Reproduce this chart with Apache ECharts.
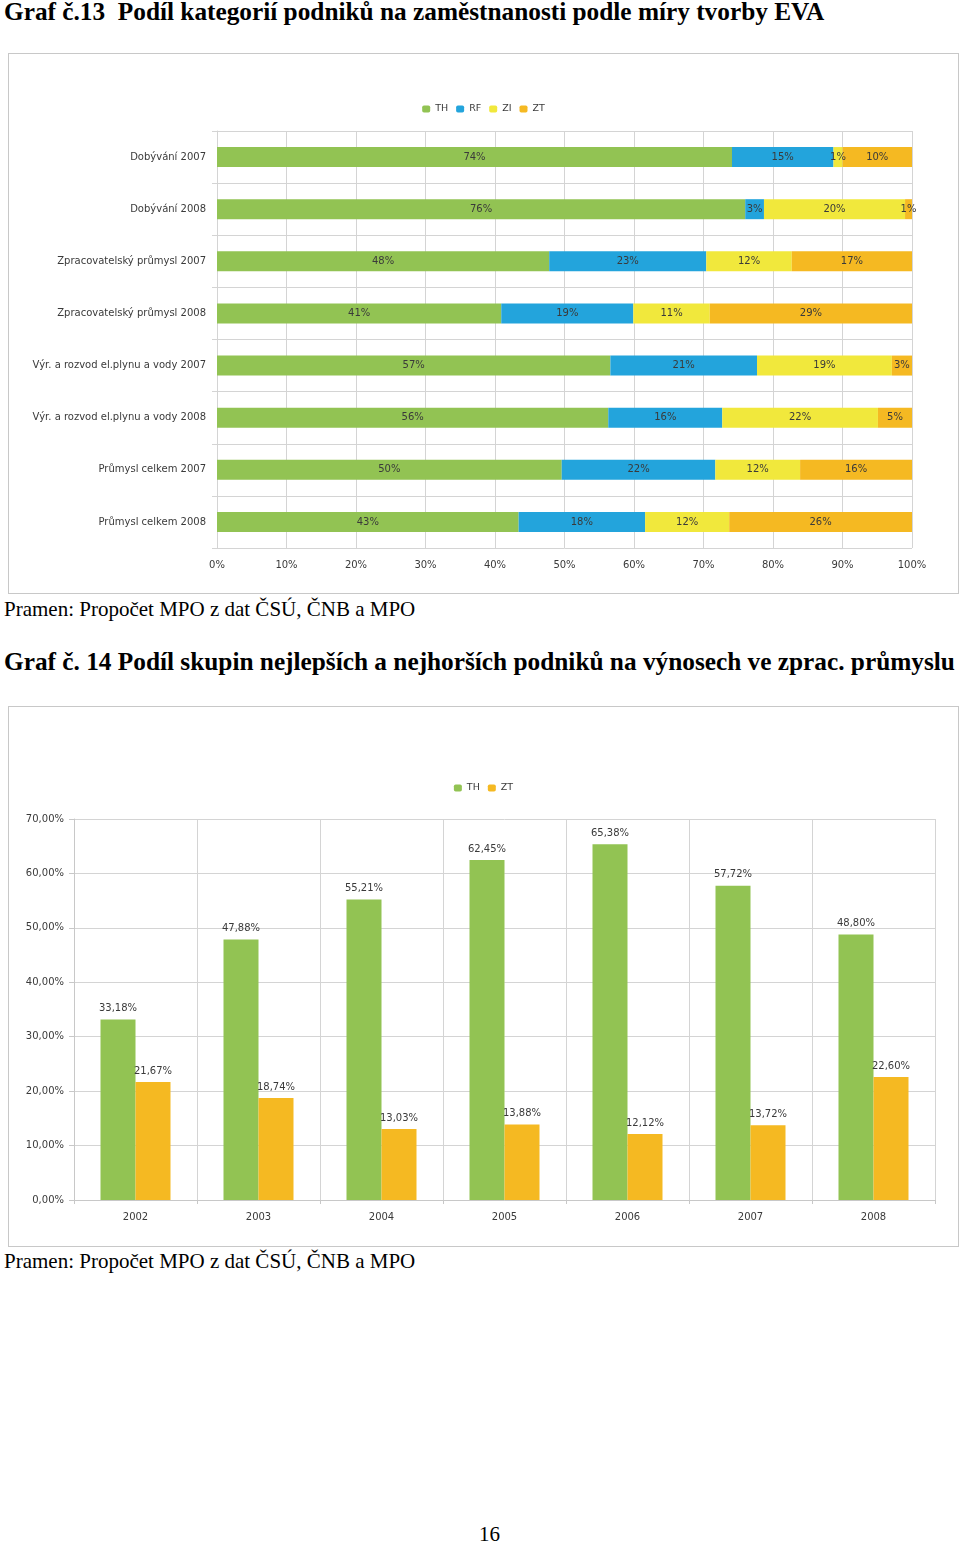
<!DOCTYPE html>
<html>
<head>
<meta charset="utf-8">
<script src="https://cdn.jsdelivr.net/npm/echarts@6/dist/echarts.min.js"></script>
<style>
  html, body { margin: 0; padding: 0; background: #fff; }
  body { width: 960px; height: 1543px; position: relative; overflow: hidden; }
  .t { position: absolute; font-family: "Liberation Serif", "DejaVu Serif", serif; color: #000; white-space: nowrap; }
  .h { font-weight: bold; font-size: 25.3px; }
  .s { font-size: 21px; }
  .box { position: absolute; border: 1.5px solid #c8c8c8; box-sizing: border-box; }
</style>
</head>
<body>
<div class="t h" style="left:4px; top:-3px;">Graf č.13&nbsp; Podíl kategorií podniků na zaměstnanosti podle míry tvorby EVA</div>
<div class="box" id="c1" style="left:8px; top:53px; width:951px; height:541px;"></div>
<div class="t s" style="left:4px; top:597px;">Pramen: Propočet MPO z dat ČSÚ, ČNB a MPO</div>
<div class="t h" style="left:4px; top:647px;">Graf č. 14 Podíl skupin nejlepších a nejhorších podniků na výnosech ve zprac. průmyslu</div>
<div class="box" id="c2" style="left:8px; top:706px; width:951px; height:541px;"></div>
<div class="t s" style="left:4px; top:1249px;">Pramen: Propočet MPO z dat ČSÚ, ČNB a MPO</div>
<div class="t" style="left:479px; top:1522px; font-size:21px;">16</div>
<script>
// ---- Chart 1 data (Graf č.13) ----
const cats1 = [
  'Dobývání 2007',
  'Dobývání 2008',
  'Zpracovatelský průmysl 2007',
  'Zpracovatelský průmysl 2008',
  'Výr. a rozvod el.plynu a vody 2007',
  'Výr. a rozvod el.plynu a vody 2008',
  'Průmysl celkem 2007',
  'Průmysl celkem 2008'
];
const TH1 = [74.1, 76.0, 47.8, 40.9, 56.6, 56.3, 49.6, 43.4];
const RF1 = [14.6, 2.7, 22.6, 19.0, 21.1, 16.4, 22.1, 18.2];
const ZI1 = [1.3, 20.3, 12.3, 11.0, 19.4, 22.4, 12.2, 12.1];
const ZT1 = [10.0, 1.0, 17.3, 29.1, 2.9, 4.9, 16.1, 26.3];
const xTicks1 = ['0%', '10%', '20%', '30%', '40%', '50%', '60%', '70%', '80%', '90%', '100%'];

// ---- Chart 2 data (Graf č.14) ----
const years2 = ['2002', '2003', '2004', '2005', '2006', '2007', '2008'];
const TH2 = [33.18, 47.88, 55.21, 62.45, 65.38, 57.72, 48.80];
const ZT2 = [21.67, 18.74, 13.03, 13.88, 12.12, 13.72, 22.60];

const COL = { TH: '#92c353', RF: '#23a4dc', ZI: '#f1e83c', ZT: '#f5b922' };
const FONT = 'DejaVu Sans';
const TXT = '#3a3a3a';

const c1 = echarts.init(document.getElementById('c1'));
function barSeries(name, data) {
  return {
    name, type: 'bar', stack: 'all', data, barWidth: 20,
    itemStyle: { color: COL[name] },
    label: {
      show: true, position: 'inside', color: TXT, fontFamily: FONT, fontSize: 10,
      formatter: p => Math.round(p.value) + '%'
    }
  };
}
c1.setOption({
  animation: false,
  textStyle: { fontFamily: FONT },
  legend: {
    top: 45, left: 'center', itemWidth: 8, itemHeight: 7, itemGap: 8,
    textStyle: { fontSize: 9.5, color: TXT, fontFamily: FONT },
    data: ['TH', 'RF', 'ZI', 'ZT']
  },
  grid: { left: 208, right: 46, top: 77, bottom: 45, containLabel: false },
  xAxis: {
    type: 'value', min: 0, max: 100, interval: 10,
    axisLine: { show: false }, axisTick: { show: false },
    splitLine: { show: true, lineStyle: { color: '#d4d4d4', width: 1 } },
    axisLabel: { color: TXT, fontSize: 10, margin: 12, formatter: v => xTicks1[Math.round(v / 10)] }
  },
  yAxis: {
    type: 'category', data: cats1, inverse: true,
    axisLine: { show: true, lineStyle: { color: '#d4d4d4' } },
    axisTick: { show: true, length: 5, lineStyle: { color: '#d4d4d4' } },
    splitLine: { show: true, lineStyle: { color: '#d4d4d4', width: 1 } },
    axisLabel: { color: TXT, fontSize: 10, margin: 11 }
  },
  series: [barSeries('TH', TH1), barSeries('RF', RF1), barSeries('ZI', ZI1), barSeries('ZT', ZT1)]
});

const c2 = echarts.init(document.getElementById('c2'));
const fmt2 = p => p.value.toFixed(2).replace('.', ',') + '%';
c2.setOption({
  animation: false,
  textStyle: { fontFamily: FONT },
  legend: {
    top: 71, left: 'center', itemWidth: 8, itemHeight: 7, itemGap: 8,
    textStyle: { fontSize: 9.5, color: TXT, fontFamily: FONT },
    data: ['TH', 'ZT']
  },
  grid: { left: 65, right: 23, top: 112, bottom: 46, containLabel: false },
  xAxis: {
    type: 'category', data: years2,
    axisLine: { show: true, lineStyle: { color: '#c8c8c8' } },
    axisTick: { show: true, length: 4, lineStyle: { color: '#c8c8c8' } },
    splitLine: { show: true, lineStyle: { color: '#d4d4d4' } },
    axisLabel: { color: TXT, fontSize: 10, margin: 12 }
  },
  yAxis: {
    type: 'value', min: 0, max: 70, interval: 10,
    axisLine: { show: true, lineStyle: { color: '#c8c8c8' } },
    axisTick: { show: true, length: 5, lineStyle: { color: '#c8c8c8' } },
    splitLine: { show: true, lineStyle: { color: '#d4d4d4' } },
    axisLabel: { color: TXT, fontSize: 10, margin: 10, formatter: v => v.toFixed(2).replace('.', ',') + '%' }
  },
  series: [
    { name: 'TH', type: 'bar', data: TH2, barWidth: 35, barGap: '0%', itemStyle: { color: COL.TH },
      label: { show: true, position: 'top', distance: 6, color: TXT, fontSize: 10, fontFamily: FONT, formatter: fmt2 } },
    { name: 'ZT', type: 'bar', data: ZT2, barWidth: 35, barGap: '0%', itemStyle: { color: COL.ZT },
      label: { show: true, position: 'top', distance: 6, color: TXT, fontSize: 10, fontFamily: FONT, formatter: fmt2 } }
  ]
});
</script>
</body>
</html>
